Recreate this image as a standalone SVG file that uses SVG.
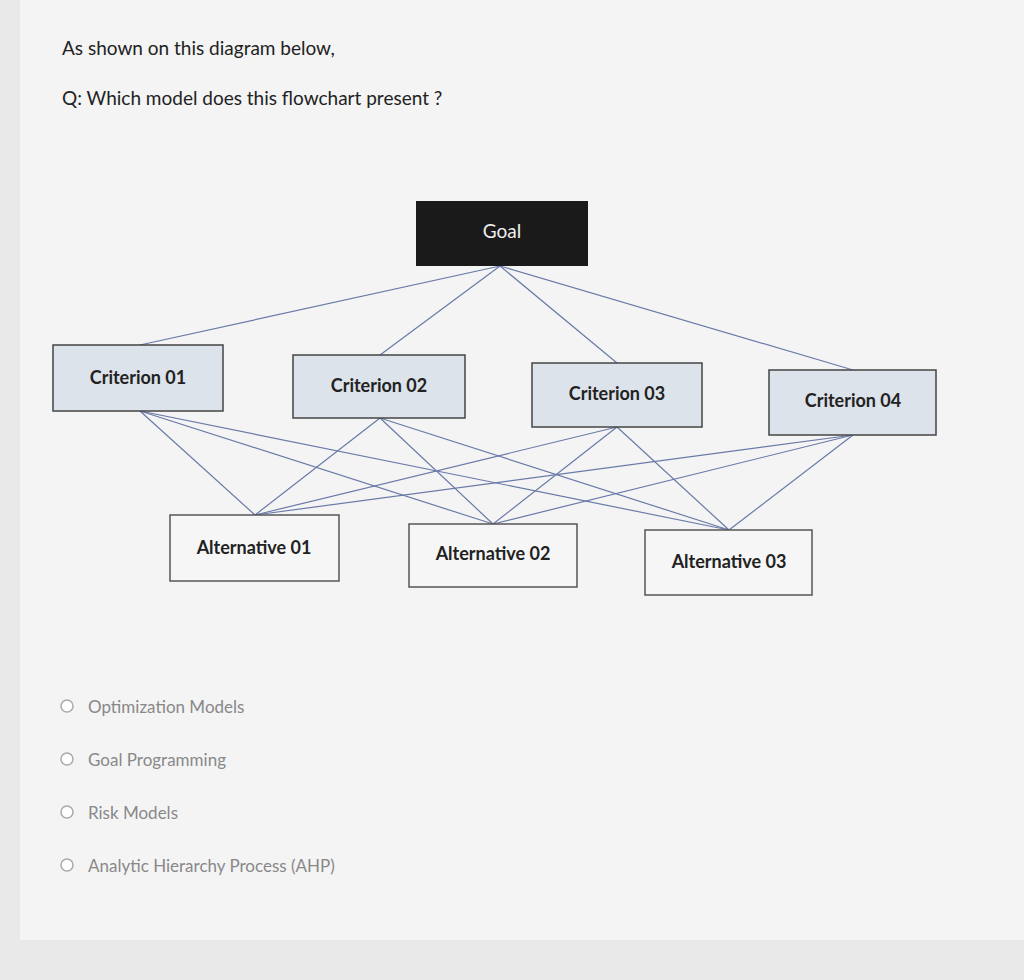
<svg xmlns="http://www.w3.org/2000/svg" width="1024" height="980" viewBox="0 0 1024 980">
<style>
.q{font-family:"Lato","Liberation Sans",sans-serif;font-size:19px;fill:#222}
.box{fill:#dde3ea;stroke:#444;stroke-width:1.5}
.abox{fill:#f6f6f6;stroke:#555;stroke-width:1.5}
.lbl{font-family:"Lato","Liberation Sans",sans-serif;font-size:18px;font-weight:bold;fill:#222;text-anchor:middle}
.opt{font-family:"Lato","Liberation Sans",sans-serif;font-size:17px;fill:#888}
.rad{fill:#fff;stroke:#aaa;stroke-width:1.5}
.c line{stroke:#6a7aa8;stroke-width:1.2}
</style>
<rect width="1024" height="980" fill="#e9e9e9"/>
<rect x="20" y="0" width="1004" height="940" fill="#f4f4f4"/>
<text class="q" x="62" y="55">As shown on this diagram below,</text>
<text class="q" x="62" y="105">Q: Which model does this flowchart present ?</text>
<g class="c" id="connectors">
<line x1="500" y1="266" x2="140" y2="345"/>
<line x1="500" y1="266" x2="380" y2="355"/>
<line x1="500" y1="266" x2="617" y2="363"/>
<line x1="500" y1="266" x2="853" y2="370"/>
<line x1="140" y1="411" x2="255" y2="515"/>
<line x1="140" y1="411" x2="493" y2="524"/>
<line x1="140" y1="411" x2="729" y2="530"/>
<line x1="380" y1="418" x2="255" y2="515"/>
<line x1="380" y1="418" x2="493" y2="524"/>
<line x1="380" y1="418" x2="729" y2="530"/>
<line x1="617" y1="427" x2="255" y2="515"/>
<line x1="617" y1="427" x2="493" y2="524"/>
<line x1="617" y1="427" x2="729" y2="530"/>
<line x1="853" y1="435" x2="255" y2="515"/>
<line x1="853" y1="435" x2="493" y2="524"/>
<line x1="853" y1="435" x2="729" y2="530"/>
</g>
<g id="goal"><rect x="416" y="201" width="172" height="65" fill="#1a1a1a"/><text x="502" y="238" text-anchor="middle" font-family="Lato,'Liberation Sans',sans-serif" font-size="19" fill="#eee">Goal</text></g>
<g id="c1"><rect class="box" x="53" y="345" width="170" height="66"/><text class="lbl" x="138" y="384">Criterion 01</text></g>
<g id="c2"><rect class="box" x="293" y="355" width="172" height="63"/><text class="lbl" x="379" y="392">Criterion 02</text></g>
<g id="c3"><rect class="box" x="532" y="363" width="170" height="64"/><text class="lbl" x="617" y="400">Criterion 03</text></g>
<g id="c4"><rect class="box" x="769" y="370" width="167" height="65"/><text class="lbl" x="853" y="407">Criterion 04</text></g>
<g id="a1"><rect class="abox" x="170" y="515" width="169" height="66"/><text class="lbl" x="254" y="554">Alternative 01</text></g>
<g id="a2"><rect class="abox" x="409" y="524" width="168" height="63"/><text class="lbl" x="493" y="560">Alternative 02</text></g>
<g id="a3"><rect class="abox" x="645" y="530" width="167" height="65"/><text class="lbl" x="729" y="568">Alternative 03</text></g>
<circle class="rad" cx="67" cy="706" r="6"/><text class="opt" x="88" y="713">Optimization Models</text>
<circle class="rad" cx="67" cy="759" r="6"/><text class="opt" x="88" y="766">Goal Programming</text>
<circle class="rad" cx="67" cy="812" r="6"/><text class="opt" x="88" y="819">Risk Models</text>
<circle class="rad" cx="67" cy="865" r="6"/><text class="opt" x="88" y="872">Analytic Hierarchy Process (AHP)</text>
</svg>
